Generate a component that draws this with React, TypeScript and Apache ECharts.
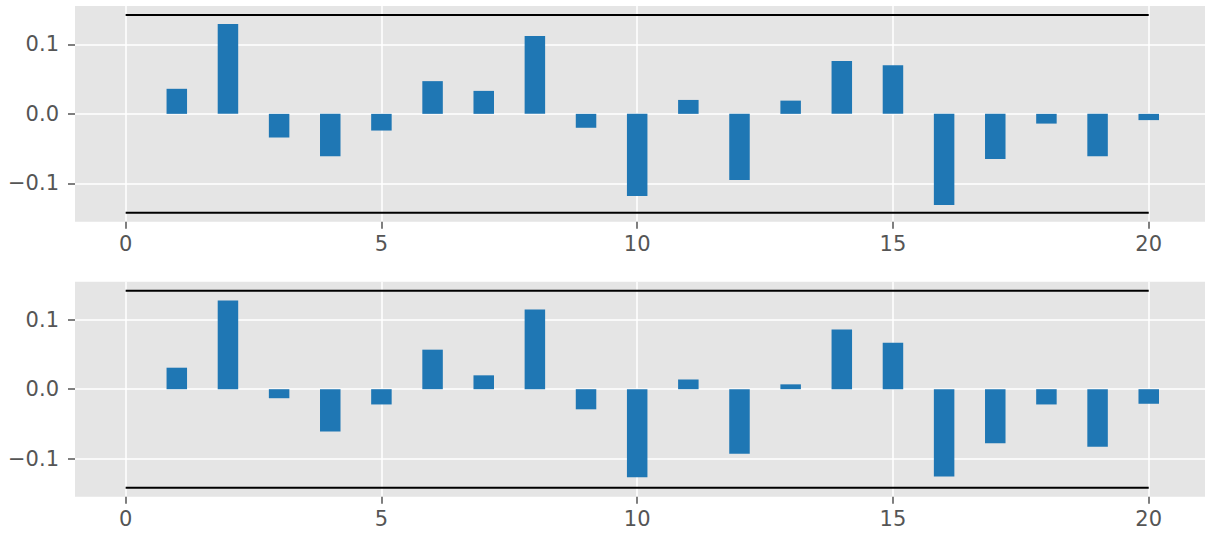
import React, { useEffect, useRef } from "react";
import * as echarts from "echarts";

// Lags 1..20 and the two correlogram series
const lags: number[] = [1, 2, 3, 4, 5, 6, 7, 8, 9, 10, 11, 12, 13, 14, 15, 16, 17, 18, 19, 20];
const acfValues: number[] = [
  0.036, 0.129, -0.034, -0.061, -0.024, 0.047, 0.033, 0.112, -0.02, -0.118,
  0.02, -0.095, 0.019, 0.076, 0.07, -0.131, -0.065, -0.014, -0.061, -0.009,
];
const pacfValues: number[] = [
  0.031, 0.128, -0.013, -0.061, -0.022, 0.057, 0.02, 0.115, -0.029, -0.127,
  0.014, -0.093, 0.007, 0.086, 0.067, -0.126, -0.078, -0.022, -0.083, -0.021,
];
// Confidence band (±) drawn from lag 0 to lag 20
const bandLevel = 0.142;
const bandSpan: number[] = [0, 20];
const xTicks: number[] = [0, 5, 10, 15, 20];
const yTicks: number[] = [-0.1, 0, 0.1];

const TEXT = "#555555";
const PANEL = "#E5E5E5";
const BAR = "#1f77b4";
const FONT = "DejaVu Sans";

const fmtY = (v: number) => {
  const a = Math.abs(v).toFixed(1);
  return v < -1e-9 ? "\u2212" + a : a;
};

function buildAxes(gridIndex: number) {
  const xAxis = {
    type: "value",
    gridIndex,
    position: "bottom",
    min: -0.99,
    max: 21.1,
    axisLine: { show: true, onZero: false, lineStyle: { color: "rgba(0,0,0,0)", width: 0 } },
    axisTick: { show: true, inside: false, customValues: xTicks, length: 7, lineStyle: { color: TEXT, width: 1.5 } },
    axisLabel: {
      customValues: xTicks,
      color: TEXT,
      fontFamily: FONT,
      fontSize: 21,
      margin: 12,
      formatter: (v: number) => String(v),
    },
    splitLine: { show: true, lineStyle: { color: "#ffffff", width: 1.5 } },
  };
  const yAxis = {
    type: "value",
    gridIndex,
    position: "left",
    min: -0.155,
    max: 0.155,
    axisLine: { show: true, onZero: false, lineStyle: { color: "rgba(0,0,0,0)", width: 0 } },
    axisTick: { show: true, inside: false, customValues: yTicks, length: 7, lineStyle: { color: TEXT, width: 1.5 } },
    axisLabel: {
      customValues: yTicks,
      color: TEXT,
      fontFamily: FONT,
      fontSize: 21,
      margin: 16,
      formatter: fmtY,
    },
    splitLine: { show: true, lineStyle: { color: "#ffffff", width: 1.5 } },
  };
  return { xAxis, yAxis };
}

function buildSeries(idx: number, values: number[]) {
  const bars = {
    type: "bar",
    xAxisIndex: idx,
    yAxisIndex: idx,
    barWidth: 20.5,
    itemStyle: { color: BAR },
    data: lags.map((l, i) => [l, values[i]]),
    z: 2,
  };
  const upper = {
    type: "line",
    xAxisIndex: idx,
    yAxisIndex: idx,
    symbol: "none",
    lineStyle: { color: "#000000", width: 2 },
    data: bandSpan.map((x) => [x, bandLevel]),
    z: 3,
  };
  const lower = {
    type: "line",
    xAxisIndex: idx,
    yAxisIndex: idx,
    symbol: "none",
    lineStyle: { color: "#000000", width: 2 },
    data: bandSpan.map((x) => [x, -bandLevel]),
    z: 3,
  };
  return [bars, upper, lower];
}

export default function App() {
  const ref = useRef<HTMLDivElement>(null);

  useEffect(() => {
    if (!ref.current) return;
    const chart = echarts.init(ref.current, undefined, { renderer: "svg" });
    const a0 = buildAxes(0);
    const a1 = buildAxes(1);
    chart.setOption({
      animation: false,
      backgroundColor: "#ffffff",
      grid: [
        { left: 75, right: 0, top: 6, height: 215.7, show: true, backgroundColor: PANEL, borderWidth: 0 },
        { left: 75, right: 0, top: 281.7, height: 215, show: true, backgroundColor: PANEL, borderWidth: 0 },
      ],
      xAxis: [a0.xAxis, a1.xAxis],
      yAxis: [a0.yAxis, a1.yAxis],
      series: [...buildSeries(0, acfValues), ...buildSeries(1, pacfValues)],
    });
    return () => chart.dispose();
  }, []);

  return (
    <div
      ref={ref}
      style={{ position: "absolute", left: 0, top: 0, width: 1205, height: 536 }}
    />
  );
}
